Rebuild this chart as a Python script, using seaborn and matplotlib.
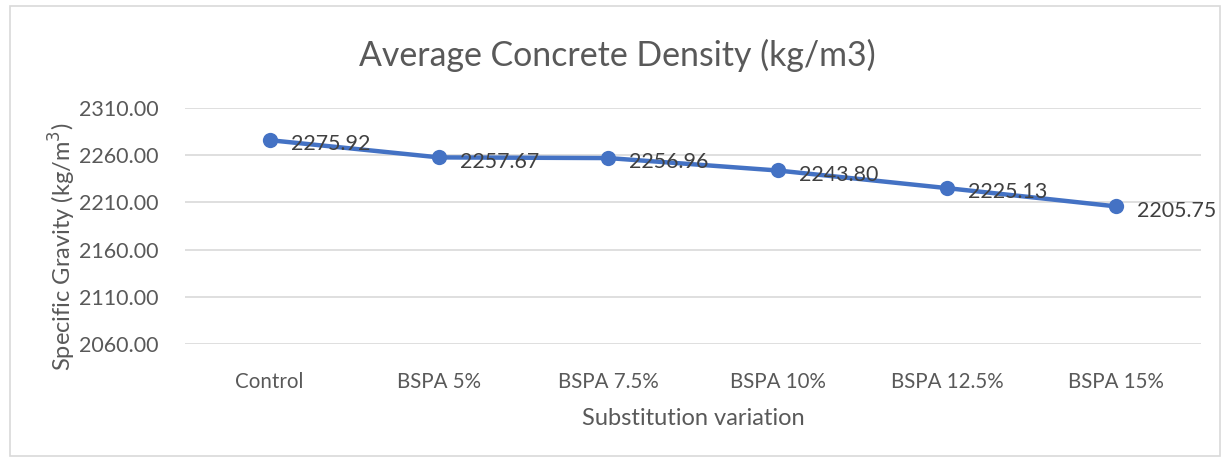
import matplotlib
matplotlib.use("Agg")
import matplotlib.pyplot as plt
import seaborn as sns
import pandas as pd
from matplotlib.patches import Rectangle
from matplotlib.ticker import FormatStrFormatter

categories = ["Control", "BSPA 5%", "BSPA 7.5%", "BSPA 10%", "BSPA 12.5%", "BSPA 15%"]
density = [2275.92, 2257.67, 2256.96, 2243.80, 2225.13, 2205.75]
yticks = [2060, 2110, 2160, 2210, 2260, 2310]

df = pd.DataFrame({"cat": categories, "val": density})

sns.set_theme(style="white")
plt.rcParams["font.family"] = ["Lato", "DejaVu Sans"]

fig = plt.figure(figsize=(12.28, 4.57), dpi=100)
ax = fig.add_axes([185 / 1228, 1 - 344 / 457, (1201 - 185) / 1228, (344 - 108) / 457])

blue = "#4472C4"
sns.lineplot(data=df, x="cat", y="val", ax=ax, color=blue, linewidth=3.2,
             marker="o", markersize=11, markeredgewidth=0, sort=False)

ax.set_xlim(-0.5, len(categories) - 0.5)
ax.set_ylim(yticks[0], yticks[-1])
ax.set_yticks(yticks)
ax.yaxis.set_major_formatter(FormatStrFormatter("%.2f"))
ax.grid(axis="y", color="#D9D9D9", linewidth=1.2)
ax.grid(axis="x", visible=False)
for s in ax.spines.values():
    s.set_visible(False)
ax.tick_params(axis="both", length=0, colors="#595959")
ax.tick_params(axis="y", pad=19, labelsize=15.5)
ax.tick_params(axis="x", pad=20, labelsize=14.8)

for i, v in enumerate(density):
    ax.annotate(f"{v:.2f}", (i, v), xytext=(15, -3), textcoords="offset points",
                ha="left", va="center", fontsize=15.4, color="#404040")

ax.set_xlabel("Substitution variation", fontsize=17, color="#595959", labelpad=12)
ax.set_ylabel("Specific Gravity (kg/m$^3$)", fontsize=17, color="#595959")
ax.yaxis.set_label_coords(-0.105, 0.41)
fig.text(0.503, 1 - 55 / 457, "Average Concrete Density (kg/m3)", fontsize=24.4,
         color="#595959", ha="center", va="center")

fig.patches.append(Rectangle((10 / 1228, 0.002), 1210 / 1228, 1 - 7 / 457, transform=fig.transFigure,
                             fill=False, edgecolor="#D9D9D9", linewidth=1.2))

fig.savefig("out.png", dpi=100)
